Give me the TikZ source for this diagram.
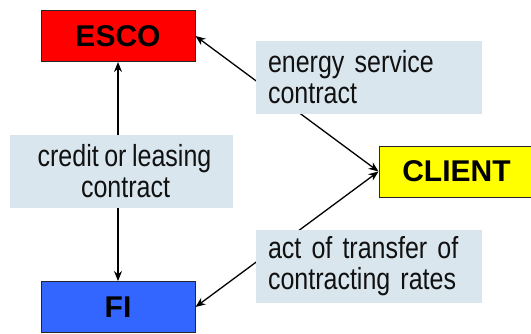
\documentclass[tikz,border=0pt]{standalone}
\usepackage{fontspec}
\setmainfont{Liberation Sans}
\newfontfamily\narrowfont[FakeStretch=0.82,WordSpace=0.8]{Liberation Sans}
\usetikzlibrary{arrows.meta}
\definecolor{escored}{HTML}{FF0000}
\definecolor{clientyellow}{HTML}{FFFF00}
\definecolor{fiblue}{HTML}{3366FF}
\definecolor{lblue}{HTML}{D9E6EE}
\definecolor{txtgray}{HTML}{111111}
\begin{document}
\begin{tikzpicture}[x=1pt,y=-1pt,
  party/.style={draw=black!85, line width=1pt, minimum width=154pt, minimum height=51pt,
    inner sep=0pt, font=\fontsize{30}{30}\selectfont\bfseries},
  lbl/.style={fill=lblue, inner sep=0pt, minimum width=226pt, minimum height=72.7pt,
    text=txtgray, font=\narrowfont\fontsize{30.5}{31}\selectfont},
  link/.style={line width=1.3pt, {Stealth[length=10pt,width=8pt]}-{Stealth[length=10pt,width=8pt]}}]
\useasboundingbox (0,0) rectangle (531,333);
\clip (0,0) rectangle (531,333);
\node[party, fill=escored] (esco) at (118,36) {ESCO};
\node[party, fill=fiblue] (fi) at (118,307) {FI};
\node[party, fill=clientyellow, minimum width=155pt] (client) at (456.5,171.5) {CLIENT};
\draw[link] (esco) -- (fi);
\draw[link] (esco.east) -- (client.west);
\draw[link] (client.west) -- (fi.east);
\node[lbl, text width=202pt, align=left] (esc) at (369,77.4) {energy service\\contract};
\node[lbl, minimum width=223pt, align=center] (clc) at (121.5,171.3) {\hspace*{6pt}credit or leasing\\\hspace*{8pt}contract};
\node[lbl, text width=202pt, align=left] (atr) at (369,266.3) {act of transfer of\\contracting rates};
\end{tikzpicture}
\end{document}
